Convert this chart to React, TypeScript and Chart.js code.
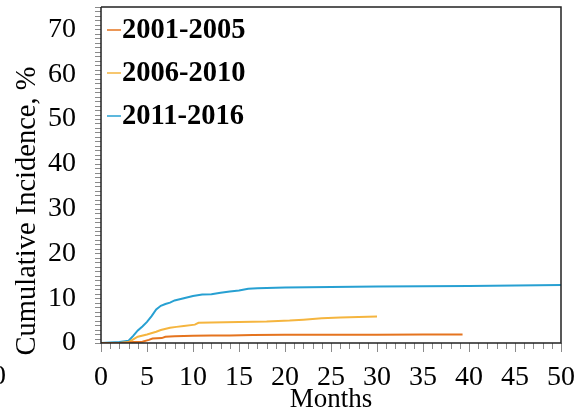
import React, { useEffect, useRef } from "react";
import { Chart, registerables } from "chart.js";

Chart.register(...registerables);

const seriesLabels = ["2001-2005", "2006-2010", "2011-2016"];
const seriesColors = ["#E5741F", "#F5B53F", "#27A0D2"];

const monthsA = [0, 2, 3, 3.5, 4.5, 5.2, 5.6, 6.6, 7.0, 8, 10, 12, 14, 16.5, 20, 26, 30, 35, 39.3];
const valuesA = [0, 0, 0.1, 0.2, 0.3, 0.7, 1.0, 1.1, 1.4, 1.5, 1.6, 1.65, 1.7, 1.8, 1.82, 1.85, 1.85, 1.87, 1.88];

const monthsB = [0, 2, 3, 3.5, 4, 5, 6, 6.5, 7.5, 8.2, 9, 10.2, 10.6, 12, 15, 18, 20.5, 22, 24, 26, 28, 30];
const valuesB = [0, 0, 0.2, 0.8, 1.4, 1.9, 2.5, 2.9, 3.4, 3.6, 3.8, 4.1, 4.5, 4.6, 4.7, 4.8, 5.0, 5.2, 5.5, 5.7, 5.8, 5.9];

const monthsC = [0, 2, 3, 3.5, 4, 4.5, 5, 5.5, 6, 6.5, 7, 7.5, 8, 9, 10, 11, 12, 13, 14, 15, 16, 17, 20, 25, 30, 40, 50];
const valuesC = [0, 0.2, 0.5, 1.6, 2.8, 3.7, 4.7, 6.0, 7.5, 8.3, 8.7, 9.0, 9.5, 10.0, 10.5, 10.8, 10.9, 11.2, 11.5, 11.7, 12.1, 12.2, 12.4, 12.5, 12.6, 12.75, 12.95];

const xTickLabels = [0, 5, 10, 15, 20, 25, 30, 35, 40, 45, 50];
const yTickLabels = [0, 10, 20, 30, 40, 50, 60, 70];
const yTitle = "Cumulative Incidence, %";

const FONT = "'Liberation Serif', 'Times New Roman', serif";

export default function App() {
  const ref = useRef<HTMLCanvasElement | null>(null);

  useEffect(() => {
    document.body.style.margin = "0";
    const canvas = ref.current;
    if (!canvas) return;

    const mk = (xs: number[], ys: number[]) => xs.map((x, i) => ({ x, y: ys[i] }));
    const data = [mk(monthsA, valuesA), mk(monthsB, valuesB), mk(monthsC, valuesC)];

    const legendPlugin = {
      id: "insideLegend",
      afterDraw(chart: any) {
        const ctx = chart.ctx;
        const area = chart.chartArea;
        ctx.save();
        ctx.font = `bold 28.5px ${FONT}`;
        ctx.textBaseline = "middle";
        ctx.fillStyle = "#000";
        chart.data.datasets.forEach((ds: any, i: number) => {
          const y = area.top + 23 + i * 43;
          ctx.strokeStyle = ds.borderColor;
          ctx.lineWidth = 1.5;
          ctx.beginPath();
          ctx.moveTo(area.left + 6, y);
          ctx.lineTo(area.left + 20, y);
          ctx.stroke();
          ctx.fillText(ds.label, area.left + 21, y + 1);
        });
        ctx.restore();
      },
    };

    const ticksPlugin = {
      id: "axisTicks",
      afterDraw(chart: any) {
        const ctx = chart.ctx;
        const a = chart.chartArea;
        const xs = chart.scales.x;
        const ys = chart.scales.y;
        ctx.save();
        ctx.strokeStyle = "#8a8a8a";
        ctx.lineWidth = 1;
        ctx.beginPath();
        for (let v = 0; v <= 50; v++) {
          const px = Math.round(xs.getPixelForValue(v)) + 0.5;
          const len = v % 5 === 0 ? 9 : 6;
          ctx.moveTo(px, a.bottom);
          ctx.lineTo(px, a.bottom + len);
        }
        for (let v = 0; v <= 75; v++) {
          const py = Math.round(ys.getPixelForValue(v)) + 0.5;
          ctx.moveTo(a.left - 6, py);
          ctx.lineTo(a.left, py);
        }
        ctx.stroke();
        ctx.strokeStyle = "#222";
        ctx.lineWidth = 1.5;
        ctx.beginPath();
        ctx.moveTo(a.left, a.top);
        ctx.lineTo(a.right, a.top);
        ctx.lineTo(a.right, a.bottom);
        ctx.lineTo(a.left, a.bottom);
        ctx.lineTo(a.left, a.top);
        ctx.stroke();
        // y axis title
        ctx.fillStyle = "#000";
        ctx.font = `28.5px ${FONT}`;
        ctx.textAlign = "center";
        ctx.textBaseline = "alphabetic";
        ctx.translate(35, 211);
        ctx.rotate(-Math.PI / 2);
        ctx.fillText(yTitle, 0, 0);
        ctx.restore();
      },
    };

    const chart = new Chart(canvas, {
      type: "line",
      data: {
        datasets: seriesLabels.map((label, i) => ({
          label,
          data: data[i],
          borderColor: seriesColors[i],
          backgroundColor: seriesColors[i],
          borderWidth: 2,
          pointRadius: 0,
          tension: 0,
          fill: false,
        })),
      },
      options: {
        animation: false,
        responsive: false,
        maintainAspectRatio: false,
        layout: { padding: { top: 7, right: 18, left: 0, bottom: 0 } },
        plugins: {
          legend: { display: false },
          tooltip: { enabled: false },
        },
        scales: {
          x: {
            type: "linear",
            min: 0,
            max: 50,
            border: { display: false },
            grid: { display: false },
            afterBuildTicks: (s: any) => {
              s.ticks = xTickLabels.map((v) => ({ value: v }));
            },
            ticks: {
              autoSkip: false,
              maxRotation: 0,
              padding: 10,
              color: "#000",
              font: { family: FONT, size: 28 },
            },
            title: {
              display: true,
              text: "Months",
              color: "#000",
              font: { family: FONT, size: 27 },
              padding: { top: -6, bottom: 0 },
            },
            afterFit: (s: any) => {
              s.height = 73;
              s.paddingLeft = 0;
              s.paddingRight = 0;
            },
          },
          y: {
            min: 0,
            max: 75,
            border: { display: false },
            grid: { display: false },
            afterBuildTicks: (s: any) => {
              s.ticks = yTickLabels.map((v) => ({ value: v }));
            },
            ticks: {
              autoSkip: false,
              padding: 17,
              color: "#000",
              font: { family: FONT, size: 28 },
            },
            title: { display: false },
            afterFit: (s: any) => {
              s.width = 101;
              s.paddingTop = 0;
              s.paddingBottom = 0;
            },
          },
        },
      },
      plugins: [legendPlugin, ticksPlugin],
    });

    return () => chart.destroy();
  }, []);

  return (
    <div style={{ position: "relative", width: 579, height: 416, overflow: "hidden", background: "#fff" }}>
      <canvas ref={ref} width={579} height={416} style={{ display: "block" }} />
      <span
        style={{
          position: "absolute",
          left: -8,
          top: 358,
          fontFamily: FONT,
          fontSize: 28,
          lineHeight: "34px",
          color: "#000",
        }}
      >
        0
      </span>
    </div>
  );
}
